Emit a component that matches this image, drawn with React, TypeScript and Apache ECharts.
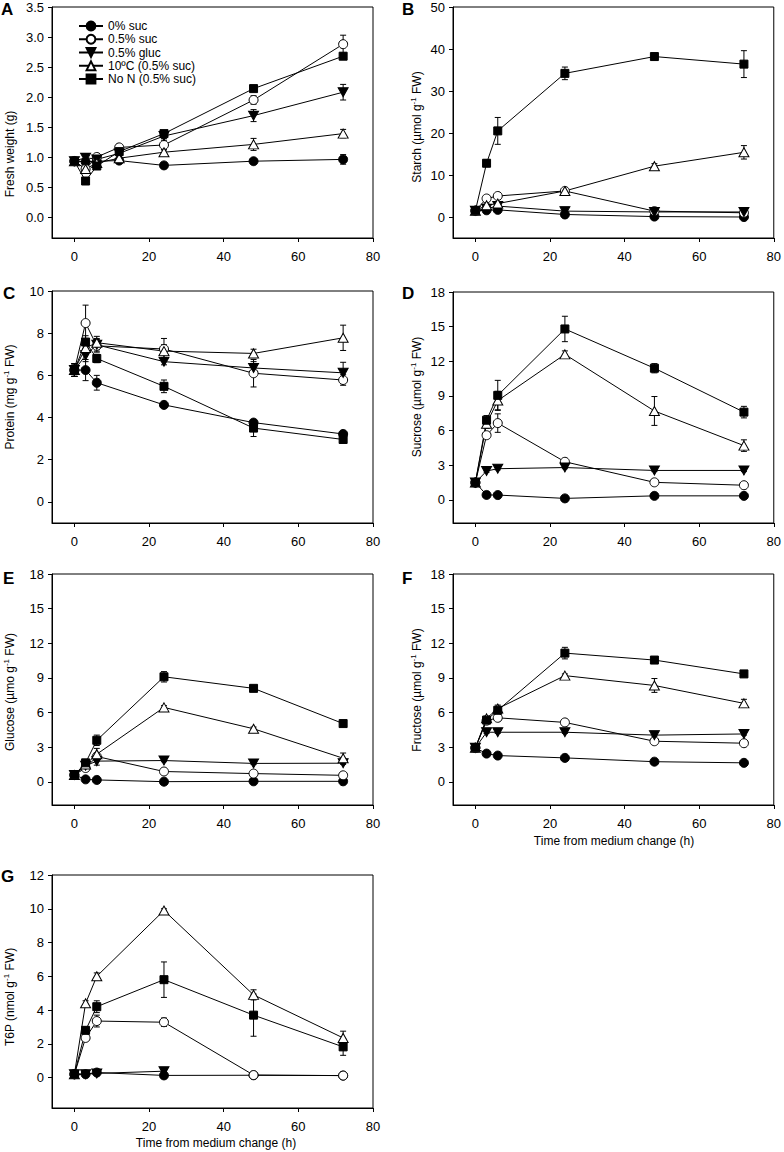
import React, { useEffect, useRef } from "react";
import * as echarts from "echarts";

// ---------- data ----------
const seriesNames = ["0% suc", "0.5% suc", "0.5% gluc", "10ºC (0.5% suc)", "No N (0.5% suc)"];
const timesFreshWeight = [0, 3, 6, 12, 24, 48, 72];
const timesMetabolite = [0, 3, 6, 24, 48, 72];

const xTicks = [0, 20, 40, 60, 80];
const freshWeightTicks = [0, 0.5, 1, 1.5, 2, 2.5, 3, 3.5];
const starchTicks = [0, 10, 20, 30, 40, 50];
const proteinTicks = [0, 2, 4, 6, 8, 10];
const sugarTicks = [0, 3, 6, 9, 12, 15, 18];
const t6pTicks = [0, 2, 4, 6, 8, 10, 12];

// series order: 0% suc, 0.5% suc, 0.5% gluc, 10ºC, No N
const freshWeightValues = [
  [0.93, 0.92, 0.93, 0.94, 0.86, 0.93, 0.96],
  [0.93, 0.8, 1.0, 1.16, 1.2, 1.95, 2.88],
  [0.93, 0.99, 0.96, 1.06, 1.35, 1.69, 2.08],
  [0.93, 0.8, 0.9, 0.98, 1.08, 1.21, 1.39],
  [0.93, 0.6, 0.85, 1.09, 1.39, 2.14, 2.68],
];
const freshWeightErrors = [
  [0.04, 0.04, 0.04, 0.03, 0.03, 0.03, 0.08],
  [0.03, 0.05, 0.03, 0.03, 0.08, 0.07, 0.15],
  [0.03, 0.04, 0.03, 0.03, 0.04, 0.1, 0.13],
  [0.03, 0.05, 0.04, 0.03, 0.04, 0.1, 0.07],
  [0.03, 0.04, 0.04, 0.04, 0.05, 0.04, 0.05],
];

const starchValues = [
  [1.5, 1.6, 1.7, 0.6, 0.1, 0.0],
  [1.5, 4.4, 5.0, 6.2, 1.4, 1.0],
  [1.5, 2.0, 2.6, 1.4, 1.2, 1.2],
  [1.5, 2.8, 3.2, 6.2, 12.1, 15.4],
  [1.5, 12.8, 20.5, 34.2, 38.2, 36.4],
];
const starchErrors = [
  [0.3, 0.3, 0.3, 0.3, 0.2, 0.2],
  [0.3, 0.3, 0.3, 0.4, 0.3, 0.3],
  [0.3, 0.3, 0.3, 0.3, 0.3, 0.3],
  [0.3, 0.3, 0.4, 0.5, 0.6, 1.6],
  [0.3, 0.8, 3.2, 1.5, 0.8, 3.2],
];

const proteinValues = [
  [6.25, 6.25, 5.65, 4.6, 3.76, 3.22],
  [6.25, 8.48, 7.4, 7.25, 6.1, 5.78],
  [6.25, 6.95, 7.45, 6.65, 6.35, 6.12],
  [6.25, 7.3, 7.55, 7.15, 7.04, 7.78],
  [6.25, 7.58, 6.8, 5.48, 3.5, 2.96],
];
const proteinErrors = [
  [0.3, 0.5, 0.35, 0.1, 0.1, 0.1],
  [0.3, 0.85, 0.3, 0.5, 0.65, 0.25],
  [0.3, 0.3, 0.3, 0.15, 0.3, 0.5],
  [0.3, 0.3, 0.3, 0.3, 0.2, 0.6],
  [0.3, 0.3, 0.2, 0.3, 0.4, 0.15],
];

const sucroseValues = [
  [1.5, 0.43, 0.42, 0.13, 0.35, 0.35],
  [1.5, 5.6, 6.65, 3.3, 1.52, 1.27],
  [1.5, 2.5, 2.7, 2.8, 2.55, 2.55],
  [1.5, 6.6, 8.6, 12.6, 7.7, 4.7],
  [1.5, 6.9, 9.05, 14.8, 11.4, 7.6],
];
const sucroseErrors = [
  [0.2, 0.1, 0.1, 0.1, 0.1, 0.1],
  [0.2, 0.2, 0.8, 0.2, 0.15, 0.1],
  [0.2, 0.1, 0.1, 0.1, 0.1, 0.1],
  [0.2, 0.4, 0.8, 0.3, 1.25, 0.5],
  [0.2, 0.4, 1.3, 1.1, 0.4, 0.5],
];

const glucoseValues = [
  [0.6, 0.22, 0.17, 0.02, 0.05, 0.05],
  [0.6, 1.2, 2.2, 0.9, 0.72, 0.57],
  [0.6, 1.4, 1.8, 1.85, 1.6, 1.62],
  [0.6, 1.5, 2.4, 6.45, 4.6, 2.05],
  [0.6, 1.65, 3.6, 9.1, 8.1, 5.05],
];
const glucoseErrors = [
  [0.1, 0.1, 0.1, 0.1, 0.1, 0.1],
  [0.1, 0.1, 0.3, 0.1, 0.1, 0.1],
  [0.1, 0.1, 0.35, 0.1, 0.1, 0.1],
  [0.1, 0.1, 0.5, 0.15, 0.15, 0.45],
  [0.1, 0.2, 0.45, 0.45, 0.15, 0.1],
];

const fructoseValues = [
  [2.95, 2.45, 2.28, 2.08, 1.75, 1.65],
  [2.95, 5.3, 5.55, 5.15, 3.52, 3.35],
  [2.95, 4.3, 4.3, 4.3, 4.05, 4.15],
  [2.95, 5.5, 6.35, 9.2, 8.35, 6.8],
  [2.95, 5.35, 6.2, 11.15, 10.55, 9.35],
];
const fructoseErrors = [
  [0.1, 0.1, 0.1, 0.1, 0.1, 0.1],
  [0.1, 0.2, 0.2, 0.1, 0.1, 0.1],
  [0.1, 0.1, 0.1, 0.1, 0.1, 0.1],
  [0.1, 0.2, 0.3, 0.15, 0.6, 0.35],
  [0.1, 0.2, 0.35, 0.5, 0.15, 0.15],
];

const t6pValues = [
  [0.2, 0.2, 0.3, 0.13, 0.14, 0.12],
  [0.2, 2.35, 3.35, 3.28, 0.15, 0.12],
  [0.2, 0.2, 0.25, 0.38, null, null],
  [0.2, 4.4, 6.0, 9.9, 4.9, 2.35],
  [0.2, 2.8, 4.2, 5.8, 3.7, 1.82],
];
const t6pErrors = [
  [0.05, 0.05, 0.05, 0.05, 0.05, 0.05],
  [0.05, 0.1, 0.35, 0.25, 0.05, 0.05],
  [0.05, 0.05, 0.05, 0.05, 0, 0],
  [0.05, 0.15, 0.2, 0.1, 0.3, 0.4],
  [0.05, 0.2, 0.35, 1.05, 1.25, 0.5],
];

// ---------- styling / layout ----------
const FONT = "'Liberation Sans', Arial, Helvetica, sans-serif";

const symbolStyles = [
  { symbol: "circle", size: 9, fill: "#000" },
  { symbol: "circle", size: 9, fill: "#fff" },
  { symbol: "path://M0,0L10,0L5,9Z", size: [10, 9], fill: "#000" },
  { symbol: "triangle", size: [10, 9], fill: "#fff" },
  { symbol: "rect", size: 8, fill: "#000" },
];

const panels = [
  { letter: "A", times: timesFreshWeight, values: freshWeightValues, errors: freshWeightErrors, ticks: freshWeightTicks, min: -0.35, max: 3.5, dec: 1,
    grid: { left: 52, top: 7, width: 321, height: 231 }, title: "{a|Fresh weight (g)}", titlePos: [10, 154], letterPos: [1, 1] },
  { letter: "B", times: timesMetabolite, values: starchValues, errors: starchErrors, ticks: starchTicks, min: -5, max: 50, dec: 0,
    grid: { left: 453, top: 7, width: 322, height: 231 }, title: "{a|Starch (µmol g}{s|-1}{a| FW)}", titlePos: [417, 127], letterPos: [402, 1] },
  { letter: "C", times: timesMetabolite, values: proteinValues, errors: proteinErrors, ticks: proteinTicks, min: -1, max: 10, dec: 0,
    grid: { left: 52, top: 291, width: 321, height: 232 }, title: "{a|Protein (mg g}{s|-1}{a| FW)}", titlePos: [10, 397], letterPos: [3, 285] },
  { letter: "D", times: timesMetabolite, values: sucroseValues, errors: sucroseErrors, ticks: sugarTicks, min: -2, max: 18, dec: 0,
    grid: { left: 453, top: 292, width: 322, height: 231 }, title: "{a|Sucrose (µmol g}{s|-1}{a| FW)}", titlePos: [417, 397], letterPos: [402, 285] },
  { letter: "E", times: timesMetabolite, values: glucoseValues, errors: glucoseErrors, ticks: sugarTicks, min: -2, max: 18, dec: 0,
    grid: { left: 52, top: 574, width: 321, height: 231 }, title: "{a|Glucose (µmo g}{s|-1}{a| FW)}", titlePos: [10, 692], letterPos: [3, 570] },
  { letter: "F", times: timesMetabolite, values: fructoseValues, errors: fructoseErrors, ticks: sugarTicks, min: -2, max: 18, dec: 0,
    grid: { left: 453, top: 574, width: 322, height: 231 }, title: "{a|Fructose (µmol g}{s|-1}{a| FW)}", titlePos: [417, 690], letterPos: [402, 570] },
  { letter: "G", times: timesMetabolite, values: t6pValues, errors: t6pErrors, ticks: t6pTicks, min: -1.8, max: 12, dec: 0,
    grid: { left: 52, top: 875, width: 321, height: 233 }, title: "{a|T6P (nmol g}{s|-1}{a| FW)}", titlePos: [10, 997], letterPos: [1, 868] },
];

const xTitles = [
  { text: "Time from medium change (h)", pos: [614, 841] },
  { text: "Time from medium change (h)", pos: [216, 1143] },
];

function buildOption() {
  const grids: any[] = [];
  const xAxes: any[] = [];
  const yAxes: any[] = [];
  const series: any[] = [];
  const graphics: any[] = [];

  panels.forEach((p, i) => {
    grids.push({ ...p.grid, show: true, borderColor: "#000", borderWidth: 1, backgroundColor: "transparent", containLabel: false });
    xAxes.push({
      gridIndex: i, type: "value", min: -6, max: 80,
      axisLine: { show: true, onZero: false, lineStyle: { color: "#000", width: 1 } },
      axisTick: { show: true, customValues: xTicks, length: 4, inside: false, lineStyle: { color: "#000" } },
      axisLabel: { customValues: xTicks, fontSize: 13, color: "#000", fontFamily: FONT, margin: 12 },
      splitLine: { show: false },
    });
    yAxes.push({
      gridIndex: i, type: "value", min: p.min, max: p.max,
      axisLine: { show: true, onZero: false, lineStyle: { color: "#000", width: 1 } },
      axisTick: { show: true, customValues: p.ticks, length: 4, inside: false, lineStyle: { color: "#000" } },
      axisLabel: {
        customValues: p.ticks, fontSize: 13, color: "#000", fontFamily: FONT, margin: 8,
        formatter: (v: number) => v.toFixed(p.dec),
      },
      splitLine: { show: false },
    });

    seriesNames.forEach((name, s) => {
      const st = symbolStyles[s];
      const pts = p.times
        .map((t, k) => [t, p.values[s][k], p.errors[s][k]])
        .filter((d) => d[1] !== null && d[1] !== undefined);
      // error bars
      series.push({
        type: "custom",
        name: "err-" + i + "-" + s,
        xAxisIndex: i, yAxisIndex: i, z: 1, silent: true,
        data: pts,
        encode: { x: 0, y: 1 },
        renderItem: (params: any, api: any) => {
          const x = api.value(0), y = api.value(1), e = api.value(2);
          if (!e) return null;
          const top = api.coord([x, y + e]);
          const bot = api.coord([x, y - e]);
          const w = 3;
          const ls = { stroke: "#000", lineWidth: 1 };
          return {
            type: "group",
            children: [
              { type: "line", shape: { x1: top[0], y1: top[1], x2: bot[0], y2: bot[1] }, style: ls },
              { type: "line", shape: { x1: top[0] - w, y1: top[1], x2: top[0] + w, y2: top[1] }, style: ls },
              { type: "line", shape: { x1: bot[0] - w, y1: bot[1], x2: bot[0] + w, y2: bot[1] }, style: ls },
            ],
          };
        },
      });
      series.push({
        type: "line",
        name,
        xAxisIndex: i, yAxisIndex: i, z: 2,
        data: pts.map((d) => [d[0], d[1]]),
        symbol: st.symbol, symbolSize: st.size, showAllSymbol: true,
        itemStyle: { color: st.fill, borderColor: "#000", borderWidth: 1, opacity: 1 },
        lineStyle: { color: "#000", width: 1 },
        emphasis: { disabled: true },
      });
    });

    graphics.push({
      type: "text", x: p.letterPos[0], y: p.letterPos[1],
      style: { text: p.letter, font: `bold 17px ${FONT}`, fill: "#000", align: "left", verticalAlign: "top" },
    });
    graphics.push({
      type: "text", x: p.titlePos[0], y: p.titlePos[1], rotation: Math.PI / 2,
      style: {
        text: p.title, align: "center", verticalAlign: "middle", fill: "#000",
        rich: {
          a: { fontSize: 12, fontFamily: FONT, color: "#000", lineHeight: 16 },
          s: { fontSize: 8, fontFamily: FONT, color: "#000", verticalAlign: "top", lineHeight: 9 },
        },
      },
    });
  });

  xTitles.forEach((t) => {
    graphics.push({
      type: "text", x: t.pos[0], y: t.pos[1],
      style: { text: t.text, fontSize: 12, fontFamily: FONT, fill: "#000", align: "center", verticalAlign: "middle" },
    });
  });

  return {
    animation: false,
    backgroundColor: "#fff",
    grid: grids,
    xAxis: xAxes,
    yAxis: yAxes,
    series,
    legend: {
      data: seriesNames,
      orient: "vertical",
      left: 73, top: 15,
      itemWidth: 24, itemHeight: 11, itemGap: 1.25,
      selectedMode: false,
      textStyle: { fontSize: 12, color: "#000", fontFamily: FONT, padding: [0, 0, 0, 0] },
    },
    graphic: graphics,
    textStyle: { fontFamily: FONT },
  };
}

export default function App() {
  const ref = useRef<HTMLDivElement>(null);
  useEffect(() => {
    if (!ref.current) return;
    const chart = echarts.init(ref.current, undefined, { renderer: "svg" });
    chart.setOption(buildOption() as any);
    return () => chart.dispose();
  }, []);
  return (
    <div
      ref={ref}
      style={{ position: "absolute", left: 0, top: 0, width: 784, height: 1152, background: "#fff" }}
    />
  );
}
